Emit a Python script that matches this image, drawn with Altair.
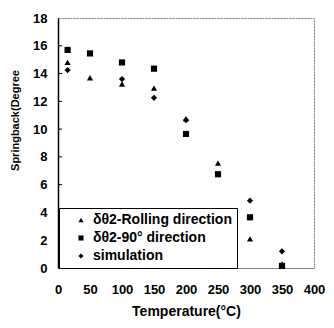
import altair as alt
import pandas as pd

temps = [15, 50, 100, 150, 200, 250, 300, 350]
rolling = [14.8, 13.7, 13.25, 12.95, 10.75, 7.55, 2.1, 0.3]
ninety = [15.7, 15.45, 14.8, 14.35, 9.65, 6.75, 3.65, 0.15]
sim_temps = [15, 100, 150, 200, 300, 350]
simulation = [14.25, 13.6, 12.25, 10.65, 4.85, 1.2]
series = ["δθ2-Rolling direction", "δθ2-90° direction", "simulation"]
y_ticks = [0, 2, 4, 6, 8, 10, 12, 14, 16, 18]
x_ticks = [0, 50, 100, 150, 200, 250, 300, 350, 400]

rows = []
for t, v in zip(temps, rolling):
    rows.append({"T": t, "S": v, "series": series[0]})
for t, v in zip(temps, ninety):
    rows.append({"T": t, "S": v, "series": series[1]})
for t, v in zip(sim_temps, simulation):
    rows.append({"T": t, "S": v, "series": series[2]})
df = pd.DataFrame(rows)

FONT = "Liberation Sans"
W, H = 256, 250

xs = alt.Scale(domain=[0, 400], nice=False)
ys = alt.Scale(domain=[0, 18], nice=False)

y_axis = alt.Axis(
    values=y_ticks, title="Springback(Degree", ticks=False, grid=False,
    domainColor="black", domainWidth=1.5,
    labelFont=FONT, labelFontSize=13, labelFontWeight="bold", labelColor="black",
    labelPadding=11, labelOverlap=False, labelFlush=False,
    titleFont=FONT, titleFontSize=11, titleFontWeight="bold", titleColor="black",
    titleX=-43, titleY=102, titleAlign="center", titleBaseline="middle")

points = alt.Chart(df).mark_point(filled=True, opacity=1, color="black", size=38).encode(
    x=alt.X("T:Q", scale=xs, axis=alt.Axis(
        values=x_ticks, title="Temperature(°C)", ticks=False, grid=False,
        domainColor="#777", domainDash=[2, 1], domainWidth=1,
        labelFont=FONT, labelFontSize=13, labelFontWeight="bold", labelColor="black",
        labelPadding=15, labelFlush=False, labelOverlap=False,
        titleFont=FONT, titleFontSize=14, titleFontWeight="bold", titleColor="black",
        titlePadding=8)),
    y=alt.Y("S:Q", scale=ys, axis=y_axis),
    shape=alt.Shape("series:N", scale=alt.Scale(domain=series, range=["triangle-up", "square", "diamond"]),
                    legend=alt.Legend(
                        title=None, orient="none", legendX=1, legendY=H - 60,
                        padding=5, symbolOffset=10, symbolSize=26, symbolFillColor="black",
                        symbolStrokeColor="black", rowPadding=4,
                        labelFont=FONT, labelFontSize=14, labelFontWeight="bold", labelColor="black",
                        labelOffset=5, fillColor="white", strokeColor="black")),
)

tick_df = pd.DataFrame({"S": y_ticks[1:-1]})
ticks = alt.Chart(tick_df).mark_rule(color="black", strokeWidth=1).encode(
    y=alt.Y("S:Q", scale=ys, axis=y_axis), x=alt.value(0), x2=alt.value(4)
)

chart = alt.layer(points, ticks).properties(
    width=W, height=H,
    autosize=alt.AutoSizeParams(type="none"),
    padding={"left": 50, "top": 10, "right": 12, "bottom": 52},
).configure_view(stroke="#777", strokeDash=[2, 1], strokeWidth=1)

chart.save("out.html", embed_options={"renderer": "svg", "actions": False})
